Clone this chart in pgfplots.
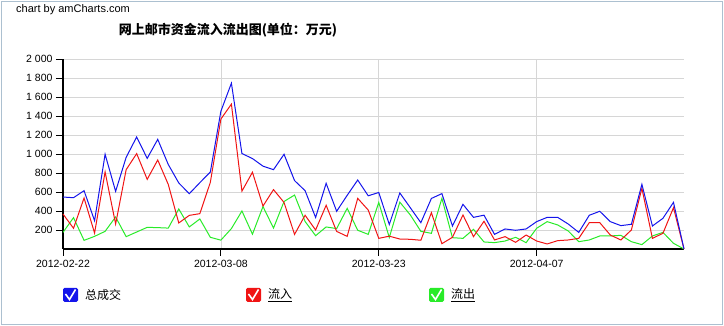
\documentclass[border=0pt]{standalone}
\usepackage{pgfplots}
\pgfplotsset{compat=1.18}
\usepackage{pgfplotstable}
\usepackage{fontspec}
\setmainfont{Liberation Sans}
\newfontfamily\cjk{Noto Sans CJK SC}
\definecolor{frame}{RGB}{172,192,208}
\definecolor{gridc}{RGB}{214,214,214}
\definecolor{cblue}{RGB}{20,20,235}
\definecolor{cred}{RGB}{240,20,20}
\definecolor{cgreen}{RGB}{40,235,40}
\pgfplotstableread{
d tot in out
0 547 368 175
1 540 218 330
2 614 537 91
3 298 168 133
4 997 811 186
5 607 263 337
6 965 835 130
7 1179 1004 179
8 954 733 228
9 1154 937 225
10 890 680 220
11 695 274 421
12 582 354 232
13 698 372 316
14 811 702 123
15 1450 1368 93
16 1745 1525 215
17 1005 609 400
18 952 808 156
19 872 452 447
20 835 625 220
21 997 490 500
22 720 154 568
23 614 355 290
24 332 200 140
25 691 460 232
26 397 185 215
27 565 133 428
28 726 533 197
29 560 410 154
30 595 112 490
31 258 135 121
32 590 105 493
33 434 102 358
34 277 92 186
35 532 382 165
36 583 56 533
37 242 123 119
38 470 358 112
39 333 130 207
40 356 292 74
41 154 95 67
42 211 130 84
43 197 70 123
44 211 147 67
45 288 84 218
46 333 53 288
47 333 88 253
48 263 95 190
49 175 112 77
50 355 277 95
51 397 277 137
52 288 147 137
53 246 95 144
54 260 200 77
55 681 639 46
56 242 112 137
57 323 165 175
58 491 435 60
59 0 0 0
}\datatable
\begin{document}
\begin{tikzpicture}[x=1pt,y=1pt]
\path[use as bounding box] (0,0) rectangle (724,326);
\draw[frame, line width=1.5pt] (1.5,1.5) rectangle (722.5,324.5);
\node[anchor=west, inner sep=0pt, font=\fontsize{11}{13}\selectfont] at (16,316) {chart by amCharts.com};
\node[inner sep=0pt, font=\cjk\bfseries\fontsize{13}{15}\selectfont] at (228,296) {网上邮市资金流入流出图(单位：万元)};
\begin{axis}[
  at={(63pt,77pt)}, anchor=south west,
  scale only axis, width=621pt, height=190pt,
  xmin=0, xmax=59, ymin=0, ymax=2000,
  axis lines=left, axis line style={-},
  x axis line style={line width=2.5pt},
  y axis line style={line width=2pt},
  xtick={0,15,30,45},
  xticklabels={2012-02-22,2012-03-08,2012-03-23,2012-04-07},
  ytick={200,400,...,2000},
  tick align=outside,
  major tick length=7pt,
  tick style={black, line width=0.8pt},
  xmajorgrids, ymajorgrids,
  grid style={gridc, line width=0.7pt},
  ticklabel style={font=\fontsize{10.5}{12}\selectfont},
  xticklabel style={yshift=-1pt},
  /pgf/number format/assume math mode=true,
  /pgf/number format/1000 sep={\ },
  clip=false,
]
\addplot[cgreen, line width=1pt] table[x=d, y=out] {\datatable};
\addplot[cred, line width=1pt] table[x=d, y=in] {\datatable};
\addplot[cblue, line width=1pt] table[x=d, y=tot] {\datatable};
\end{axis}
% legend
\fill[cblue, rounded corners=1.5pt] (63,24) rectangle (78,38);
\draw[white, line width=1.6pt] (65.5,32) -- (69.5,26.5) -- (75.5,36.5);
\node[anchor=west, inner sep=0pt, font=\cjk\fontsize{12}{14}\selectfont] at (85,31) {总成交};
\fill[cred, rounded corners=1.5pt] (246,24) rectangle (261,38);
\draw[white, line width=1.6pt] (248.5,32) -- (252.5,26.5) -- (258.5,36.5);
\node[anchor=west, inner sep=0pt, font=\cjk\fontsize{12}{14}\selectfont] at (268,31) {\underline{流入}};
\fill[cgreen, rounded corners=1.5pt] (429,24) rectangle (444,38);
\draw[white, line width=1.6pt] (431.5,32) -- (435.5,26.5) -- (441.5,36.5);
\node[anchor=west, inner sep=0pt, font=\cjk\fontsize{12}{14}\selectfont] at (451,31) {\underline{流出}};
\end{tikzpicture}
\end{document}
